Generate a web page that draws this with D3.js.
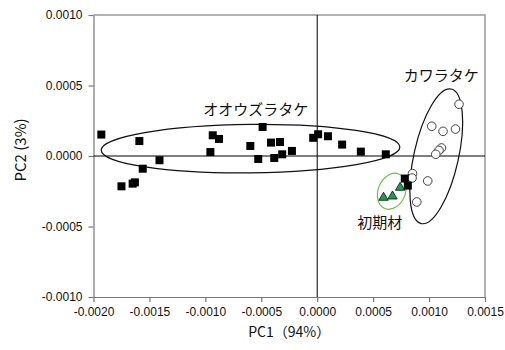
<!DOCTYPE html>
<html>
<head>
<meta charset="utf-8">
<script src="https://cdn.jsdelivr.net/npm/d3@7"></script>
<style>
  body { margin: 0; background: #fff; }
  text { font-family: "Liberation Sans", Arial, sans-serif; }
  .jp { font-family: "Noto Sans CJK JP", sans-serif; }
</style>
</head>
<body>
<div id="chart"></div>
<script>
// valeurs (PC1, PC2)
const ouzuraX = [-0.00193, -0.00159, -0.00141, -0.00156, -0.00175, -0.00165, -0.00163, -0.000955, -0.000934, -0.000878,
  -0.000488, -0.000598, -0.000527, -0.000413, -0.000333, -0.000384, -0.000313, -0.000226, -0.000036, 0.000008,
  0.000096, 0.000223, 0.00039, 0.000613, 0.000783, 0.00081];
const ouzuraY = [0.000152, 0.000106, -0.00003, -0.00009, -0.000215, -0.000196, -0.000187, 0.000028, 0.000147, 0.000121,
  0.000206, 0.000071, -0.000021, 0.000095, 0.000099, -0.000014, 0.000012, 0.000036, 0.000129, 0.000154,
  0.00014, 0.000081, 0.000031, 0.000012, -0.00016, -0.00021];

const kawaraX = [0.001268, 0.001024, 0.001125, 0.001236, 0.001111, 0.001089, 0.00106, 0.000852, 0.000848, 0.000988, 0.00089];
const kawaraY = [0.000367, 0.000211, 0.000175, 0.000191, 0.000057, 0.00004, 0.000012, -0.000125, -0.000156, -0.000177, -0.000326];

const shokiX = [0.000593, 0.000673, 0.000741];
const shokiY = [-0.000295, -0.000286, -0.000224];

const xTicks = [-0.002, -0.0015, -0.001, -0.0005, 0, 0.0005, 0.001, 0.0015];
const yTicks = [-0.001, -0.0005, 0, 0.0005, 0.001];

// ellipses : centre, demi-axes (unités des données), rotation
const groupNames = ['オオウズラタケ', 'カワラタケ', '初期材'];
const ellCx = [-0.000596, 0.001064, 0.000667];
const ellCy = [0.0000525, -0.000002, -0.00025];
const ellRx = [0.001335, 0.000199, 0.000122];
const ellRy = [0.000172, 0.000489, 0.000132];
const ellRot = [-0.6, 12.6, 22];

const WIDTH = 505;
const HEIGHT = 350;

const svg = d3.select('#chart').append('svg').attr('width', WIDTH).attr('height', HEIGHT);

const x = d3.scaleLinear().domain([-0.002, 0.0015]).range([93.5, 485]);
const y = d3.scaleLinear().domain([-0.001, 0.001]).range([297, 15]);

// cadre gris haut / droite
svg.append('path')
  .attr('d', `M${x(-0.002)},${y(0.001)}H${x(0.0015)}V${y(-0.001)}`)
  .attr('fill', 'none').attr('stroke', '#999').attr('stroke-width', 1.5);

const fmt = d => d.toFixed(4);

// axe Y
const yAxis = svg.append('g')
  .attr('transform', `translate(${x(-0.002)},0)`)
  .call(d3.axisLeft(y).tickValues(yTicks).tickFormat(fmt).tickSize(5).tickSizeOuter(0).tickPadding(6));

// axe X
const xAxis = svg.append('g')
  .attr('transform', `translate(0,${y(-0.001)})`)
  .call(d3.axisBottom(x).tickValues(xTicks).tickFormat(fmt).tickSize(5).tickSizeOuter(0).tickPadding(5));

[xAxis, yAxis].forEach(a => {
  a.select('.domain').attr('stroke', '#777').attr('stroke-width', 1.2);
  a.selectAll('.tick line').attr('stroke', '#777').attr('stroke-width', 1.2);
  a.selectAll('.tick text').attr('fill', '#111').style('font-size', '12px')
    .style('font-family', '"Liberation Sans", Arial, sans-serif');
});

// lignes du zéro
svg.append('line')
  .attr('x1', x(0)).attr('x2', x(0)).attr('y1', y(0.001)).attr('y2', y(-0.001))
  .attr('stroke', '#000').attr('stroke-width', 1);
svg.append('line')
  .attr('x1', x(-0.002)).attr('x2', x(0.0015)).attr('y1', y(0)).attr('y2', y(0))
  .attr('stroke', '#000').attr('stroke-width', 1);

// ellipses des groupes
const ellColors = ['#111', '#111', '#6cc24a'];
groupNames.forEach((g, i) => {
  const cx = x(ellCx[i]), cy = y(ellCy[i]);
  svg.append('ellipse')
    .attr('cx', cx).attr('cy', cy)
    .attr('rx', x(ellRx[i]) - x(0))
    .attr('ry', y(0) - y(ellRy[i]))
    .attr('transform', `rotate(${ellRot[i]},${cx},${cy})`)
    .attr('fill', 'none')
    .attr('stroke', ellColors[i])
    .attr('stroke-width', 1.2);
});

// cercles blancs : カワラタケ
svg.append('g').selectAll('circle')
  .data(d3.zip(kawaraX, kawaraY))
  .enter()
  .append('circle')
  .attr('cx', d => x(d[0]))
  .attr('cy', d => y(d[1]))
  .attr('r', 4.3)
  .attr('fill', '#fff')
  .attr('stroke', '#444')
  .attr('stroke-width', 1);

// triangles verts : 初期材
const tri = d3.symbol().type(d3.symbolTriangle).size(38);
svg.append('g').selectAll('path')
  .data(d3.zip(shokiX, shokiY))
  .enter()
  .append('path')
  .attr('d', tri)
  .attr('transform', d => `translate(${x(d[0])},${y(d[1])})`)
  .attr('fill', '#16a04a')
  .attr('stroke', '#111')
  .attr('stroke-width', 0.8);

// carrés noirs : オオウズラタケ
const SQ = 8;
svg.append('g').selectAll('rect')
  .data(d3.zip(ouzuraX, ouzuraY))
  .enter()
  .append('rect')
  .attr('x', d => x(d[0]) - SQ / 2)
  .attr('y', d => y(d[1]) - SQ / 2)
  .attr('width', SQ)
  .attr('height', SQ)
  .attr('fill', '#000');

// étiquettes des groupes
const labelX = [-0.00055, 0.00111, 0.00056];
const labelY = [0.00029, 0.00053, -0.00051];
svg.append('g').selectAll('text')
  .data(groupNames)
  .enter()
  .append('text')
  .attr('class', 'jp')
  .attr('x', (d, i) => x(labelX[i]))
  .attr('y', (d, i) => y(labelY[i]))
  .attr('text-anchor', 'middle')
  .style('font-size', '15px')
  .attr('fill', '#111')
  .text(d => d);

// titres des axes
svg.append('text')
  .attr('class', 'jp')
  .attr('x', (x(-0.002) + x(0.0015)) / 2)
  .attr('y', 337)
  .attr('text-anchor', 'middle')
  .style('font-size', '14px')
  .attr('fill', '#111')
  .text('PC1（94%）');

svg.append('text')
  .attr('class', 'jp')
  .attr('transform', `translate(26,150) rotate(-90)`)
  .attr('text-anchor', 'middle')
  .style('font-size', '15px')
  .attr('fill', '#111')
  .text('PC2 (3%)');
</script>
</body>
</html>
